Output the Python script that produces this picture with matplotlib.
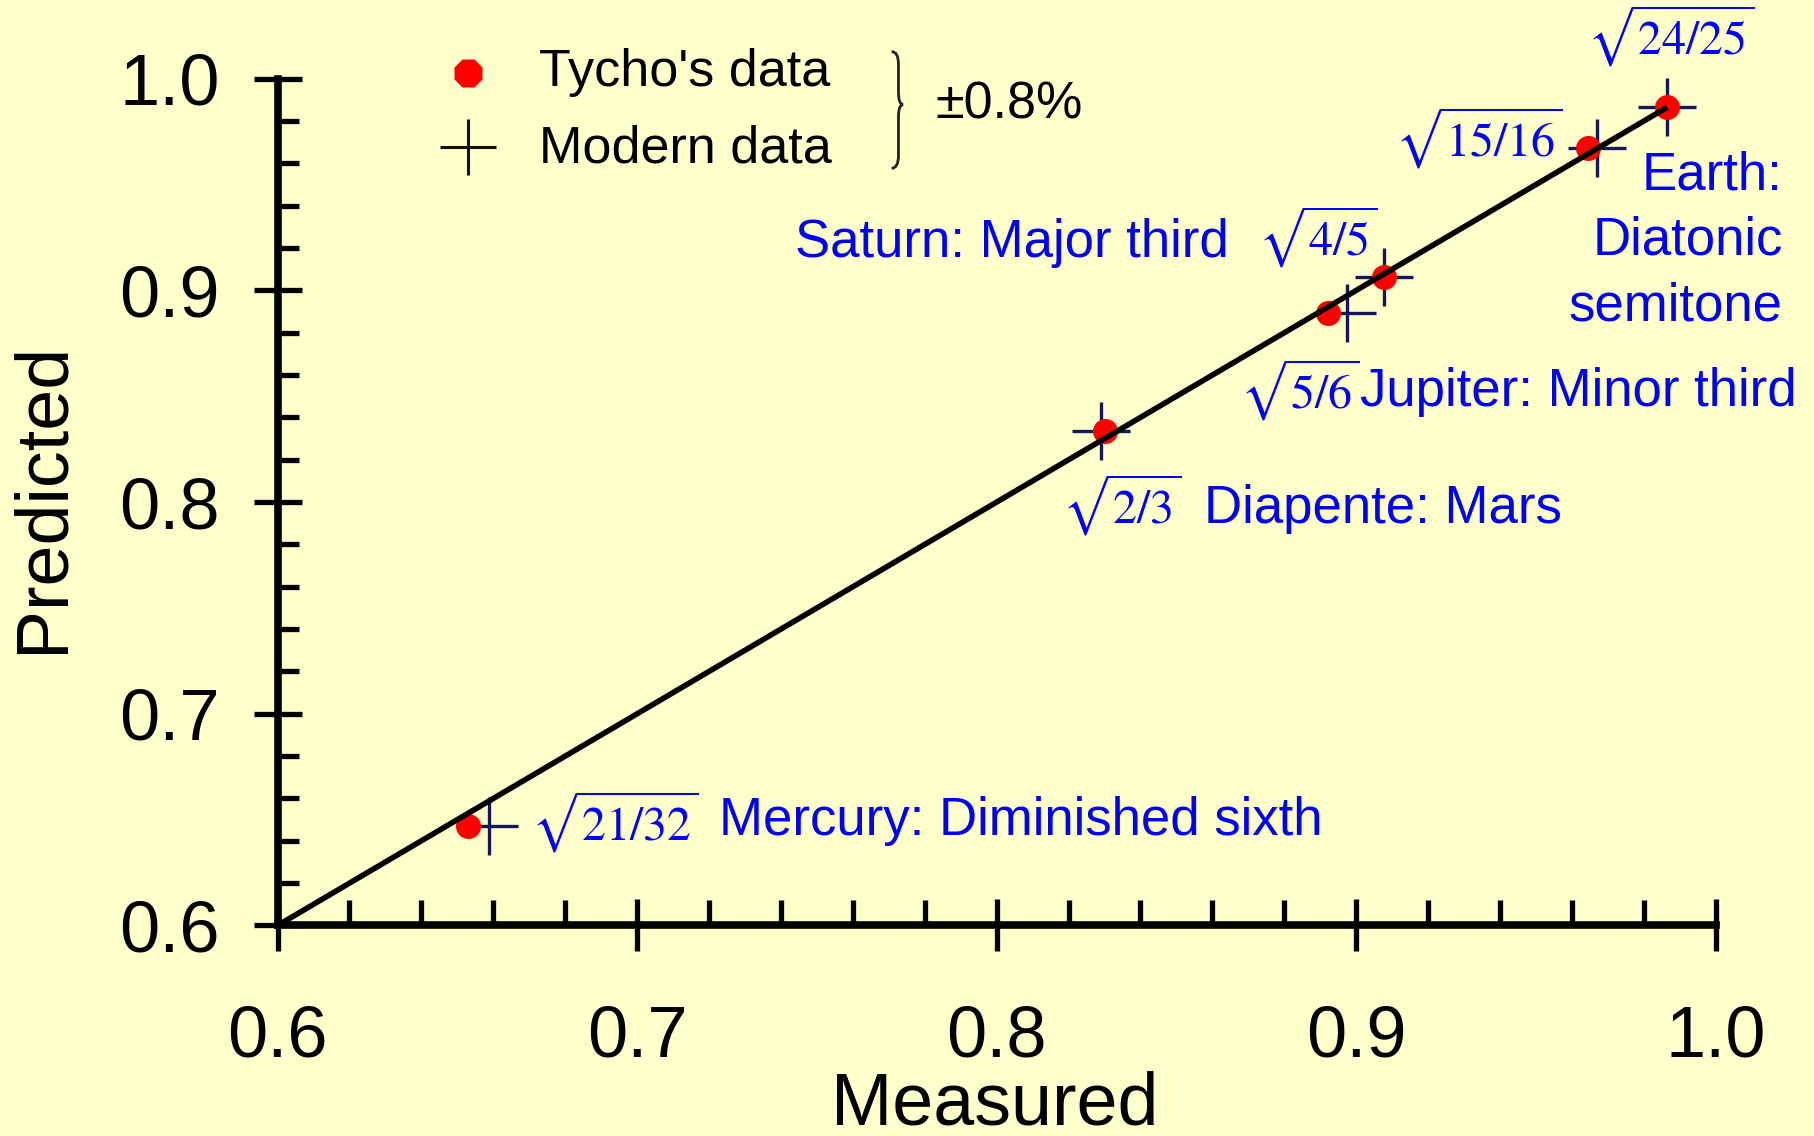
import matplotlib.pyplot as plt
import numpy as np
from matplotlib.path import Path
from matplotlib.patches import PathPatch

plt.rcParams['font.family'] = ['Liberation Sans', 'DejaVu Sans']
plt.rcParams['mathtext.fontset'] = 'stix'

# values (measured vs predicted)
ratios = ['21/32', '2/3', '5/6', '4/5', '15/16', '24/25']
tycho_measured = [0.6530, 0.8302, 0.8923, 0.9078, 0.9645, 0.9865]
modern_measured = [0.6588, 0.8290, 0.8974, 0.9078, 0.9670, 0.9865]
predicted = [0.6471, 0.8336, 0.8892, 0.9062, 0.9673, 0.9866]

interval_names = ['Mercury: Diminished sixth', 'Diapente: Mars',
                  'Jupiter: Minor third', 'Saturn: Major third',
                  'Earth:\nDiatonic\nsemitone']

ticks = [0.6, 0.7, 0.8, 0.9, 1.0]
tick_labels = ['0.6', '0.7', '0.8', '0.9', '1.0']

# where the annotations sit (data coords, baseline of last line)
ratio_pos = [(0.6706, 0.6401), (0.8183, 0.7897), (0.8676, 0.8443),
             (0.8726, 0.9167), (0.9107, 0.9632), (0.9641, 1.0112)]
name_pos = [(0.7229, 0.6426, 'left'), (0.8577, 0.7901, 'left'),
            (0.9011, 0.8455, 'left'), (0.8645, 0.9159, 'right'),
            (1.0186, 0.8860, 'right')]

bg = '#FFFFCC'
blue = '#0000FF'
navy = '#16165C'

fig = plt.figure(figsize=(18.14, 11.36), dpi=100, facecolor=bg)
ax = fig.add_axes([0.1530, 0.1853, 0.7928, 0.7454])
ax.set_facecolor(bg)

# ideal line y = x up to the last point
fit_x = [0.6, max(tycho_measured)]
ax.plot(modern_measured, predicted, ls='none', marker='+', ms=42, mew=2.4,
        color=navy, zorder=2, clip_on=False)
ax.plot(tycho_measured, predicted, ls='none', marker='o', ms=18,
        color='#FF0000', mec='none', zorder=3, clip_on=False)
ax.plot(fit_x, fit_x, color='black', lw=4, zorder=4, solid_capstyle='butt')

for r, (x, y) in zip(ratios, ratio_pos):
    ax.text(x, y, r'$\sqrt{%s}$' % r, color=blue, fontsize=34.5,
            ha='left', va='baseline', clip_on=False)
for name, (x, y, ha) in zip(interval_names, name_pos):
    ax.text(x, y, name, color=blue, fontsize=38, ha=ha, va='baseline',
            multialignment='right', linespacing=1.39, clip_on=False)

# legend block
ax.plot([0.6529], [1.0026], ls='none', marker='8', ms=22, color='#FF0000',
        mec='none', clip_on=False)
ax.plot([0.6531], [0.9679], ls='none', marker='+', ms=41, mew=2.2,
        color='#111111', clip_on=False)
ax.text(0.6728, 0.9966, "Tycho's data", fontsize=37.5, va='baseline', clip_on=False)
ax.text(0.6728, 0.9602, 'Modern data', fontsize=37.5, va='baseline', clip_on=False)
ax.text(0.7831, 0.9810, '\u00b10.8%', fontsize=37.5, va='baseline', clip_on=False)

xl, xs, xt = 0.7708, 0.7727, 0.7740
yt, ym, yb = 1.0128, 0.9878, 0.9577
dy = 0.006
verts = [(xl, yt), (xs, yt), (xs, yt - dy), (xs, ym + dy),
         (xs, ym), (xt, ym), (xs, ym), (xs, ym - dy),
         (xs, yb + dy), (xs, yb), (xl, yb)]
codes = [Path.MOVETO, Path.CURVE3, Path.CURVE3, Path.LINETO,
         Path.CURVE3, Path.CURVE3, Path.CURVE3, Path.CURVE3,
         Path.LINETO, Path.CURVE3, Path.CURVE3]
ax.add_patch(PathPatch(Path(verts, codes), fill=False, lw=2.0,
                       edgecolor='#222222', clip_on=False))

# axes
ax.set_xlim(0.6, 1.0)
ax.set_ylim(0.6, 1.0)
ax.set_xticks(ticks, tick_labels)
ax.set_yticks(ticks, tick_labels)
ax.set_xticks(np.arange(0.62, 1.0, 0.02), minor=True)
ax.set_yticks(np.arange(0.62, 1.0, 0.02), minor=True)
for s in ['top', 'right']:
    ax.spines[s].set_visible(False)
for s in ['left', 'bottom']:
    ax.spines[s].set_linewidth(5.5)
ax.tick_params(axis='x', which='major', direction='inout', length=38, width=3.8,
               pad=38, labelsize=52)
ax.tick_params(axis='y', which='major', direction='inout', length=35, width=3.8,
               pad=24, labelsize=52)
ax.tick_params(axis='x', which='minor', direction='in', length=18, width=3.8)
ax.tick_params(axis='y', which='minor', direction='in', length=15, width=3.8)

fig.text(0.5485, 0.0105, 'Measured', fontsize=53, ha='center', va='baseline')
fig.text(0.0342, 0.562, 'Predicted', fontsize=53, rotation=90,
         rotation_mode='anchor', ha='center', va='baseline')

fig.savefig('out.png', dpi=100, facecolor=bg)
